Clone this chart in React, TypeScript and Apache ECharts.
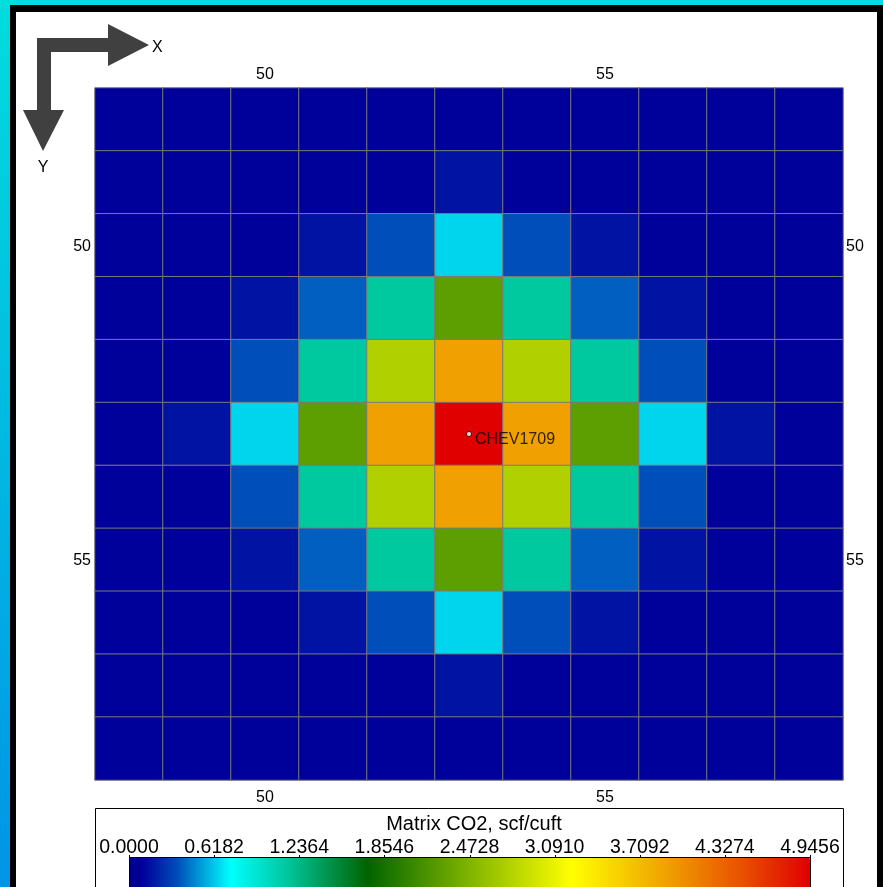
import React, { useEffect, useRef } from 'react';
import * as echarts from 'echarts';

const xCategories = ['48', '49', '50', '51', '52', '53', '54', '55', '56', '57', '58'];
const yCategories = ['48', '49', '50', '51', '52', '53', '54', '55', '56', '57', '58'];
const xLabeled = ['50', '55'];
const yLabeled = ['50', '55'];

const row48 = [0.09, 0.09, 0.09, 0.09, 0.09, 0.09, 0.09, 0.09, 0.09, 0.09, 0.09];
const row49 = [0.09, 0.09, 0.09, 0.09, 0.09, 0.16, 0.09, 0.09, 0.09, 0.09, 0.09];
const row50 = [0.09, 0.09, 0.09, 0.16, 0.35, 0.65, 0.35, 0.16, 0.09, 0.09, 0.09];
const row51 = [0.09, 0.09, 0.16, 0.39, 1.14, 2.27, 1.14, 0.39, 0.16, 0.09, 0.09];
const row52 = [0.09, 0.09, 0.35, 1.14, 2.75, 3.91, 2.75, 1.14, 0.35, 0.09, 0.09];
const row53 = [0.09, 0.16, 0.65, 2.27, 3.91, 4.9456, 3.91, 2.27, 0.65, 0.16, 0.09];
const row54 = [0.09, 0.09, 0.35, 1.14, 2.75, 3.91, 2.75, 1.14, 0.35, 0.09, 0.09];
const row55 = [0.09, 0.09, 0.16, 0.39, 1.14, 2.27, 1.14, 0.39, 0.16, 0.09, 0.09];
const row56 = [0.09, 0.09, 0.09, 0.16, 0.35, 0.65, 0.35, 0.16, 0.09, 0.09, 0.09];
const row57 = [0.09, 0.09, 0.09, 0.09, 0.09, 0.16, 0.09, 0.09, 0.09, 0.09, 0.09];
const row58 = [0.09, 0.09, 0.09, 0.09, 0.09, 0.09, 0.09, 0.09, 0.09, 0.09, 0.09];
const rows = [row48, row49, row50, row51, row52, row53, row54, row55, row56, row57, row58];

const valueMin = 0;
const valueMax = 4.9456;
const legendTicks = [0.0, 0.6182, 1.2364, 1.8546, 2.4728, 3.091, 3.7092, 4.3274, 4.9456];
const legendTitle = 'Matrix CO2, scf/cuft';

const wellName = 'CHEV1709';
const wellX = '53';
const wellY = '53';

// colour map (style)
const colorStops: [number, string][] = [
  [0, '#000088'],
  [0.02, '#00009C'],
  [0.07, '#004CB8'],
  [0.15, '#00FFFF'],
  [0.23, '#00C8A0'],
  [0.35, '#006400'],
  [0.5, '#80B400'],
  [0.65, '#FFFF00'],
  [0.79, '#F0A000'],
  [0.9, '#E85000'],
  [1, '#E00000'],
];

function hexToRgb(h: string) {
  return [parseInt(h.slice(1, 3), 16), parseInt(h.slice(3, 5), 16), parseInt(h.slice(5, 7), 16)];
}
function sampleColor(t: number) {
  for (let i = 0; i < colorStops.length - 1; i++) {
    const [a, ca] = colorStops[i];
    const [b, cb] = colorStops[i + 1];
    if (t >= a && t <= b) {
      const f = (t - a) / (b - a);
      const A = hexToRgb(ca);
      const B = hexToRgb(cb);
      const c = A.map((v, k) => Math.round(v + (B[k] - v) * f));
      return `rgb(${c[0]},${c[1]},${c[2]})`;
    }
  }
  return colorStops[colorStops.length - 1][1];
}
const rampColors: string[] = [];
for (let i = 0; i <= 200; i++) rampColors.push(sampleColor(i / 200));

export default function App() {
  const ref = useRef<HTMLDivElement>(null);
  useEffect(() => {
    if (!ref.current) return;
    const chart = echarts.init(ref.current, undefined, { renderer: 'svg' });

    const heatData: number[][] = [];
    rows.forEach((r, yi) => r.forEach((v, xi) => heatData.push([xi, yi, v])));

    const gridLeft = 95, gridTop = 88, gridW = 748, gridH = 692;
    const barLeft = 129, barTop = 857, barLen = 681, barThick = 40;

    const font = 'Arial, "Liberation Sans", sans-serif';

    const axisCommon = {
      type: 'category',
      axisLine: { show: false },
      axisTick: { show: false },
      splitLine: { show: false },
    };

    const graphics: any[] = [
      {
        type: 'rect', z: -10, silent: true,
        shape: { x: 0, y: 0, width: 883, height: 887 },
        style: {
          fill: new echarts.graphic.LinearGradient(0, 0, 0, 1, [
            { offset: 0, color: '#00DDDD' },
            { offset: 1, color: '#0094E6' },
          ]),
        },
      },
      {
        type: 'rect', z: -9, silent: true,
        shape: { x: 10, y: 5, width: 873, height: 882 },
        style: { fill: '#000000' },
      },
      {
        type: 'rect', z: -8, silent: true,
        shape: { x: 16, y: 12, width: 861, height: 875 },
        style: { fill: '#FFFFFF' },
      },
      {
        type: 'polygon', z: 10, silent: true,
        shape: {
          points: [
            [37, 38], [108, 38], [108, 24], [149, 45], [108, 66], [108, 52],
            [51, 52], [51, 110], [64, 110], [43, 151], [23, 110], [37, 110],
          ],
        },
        style: { fill: '#404040' },
      },
      {
        type: 'text', z: 10, x: 152, y: 46,
        style: { text: 'X', font: `16px ${font}`, fill: '#000', align: 'left', verticalAlign: 'middle' },
      },
      {
        type: 'text', z: 10, x: 43, y: 166,
        style: { text: 'Y', font: `16px ${font}`, fill: '#000', align: 'center', verticalAlign: 'middle' },
      },
      {
        type: 'rect', z: 1, silent: true,
        shape: { x: 95.5, y: 808.5, width: 748, height: 120 },
        style: { fill: '#FFFFFF', stroke: '#000000', lineWidth: 1 },
      },
      {
        type: 'text', z: 10, x: 474, y: 823,
        style: { text: legendTitle, font: `20px ${font}`, fill: '#000', align: 'center', verticalAlign: 'middle' },
      },
      {
        type: 'rect', z: 10, silent: true,
        shape: { x: barLeft + 0.5, y: barTop + 0.5, width: barLen, height: 60 },
        style: { fill: 'none', stroke: '#000000', lineWidth: 1 },
      },
    ];
    legendTicks.forEach((t) => {
      const x = barLeft + ((t - valueMin) / (valueMax - valueMin)) * barLen;
      graphics.push({
        type: 'text', z: 10, x: x, y: 846,
        style: { text: t.toFixed(4), font: `19.5px ${font}`, fill: '#000', align: 'center', verticalAlign: 'middle' },
      });
      graphics.push({
        type: 'line', z: 10, silent: true,
        shape: { x1: Math.round(x) + 0.5, y1: barTop - 2, x2: Math.round(x) + 0.5, y2: barTop + 1 },
        style: { stroke: '#000000', lineWidth: 1 },
      });
    });

    const labelStyle = { color: '#000', fontSize: 16, fontFamily: font };

    chart.setOption({
      animation: false,
      grid: { left: gridLeft, top: gridTop, width: gridW, height: gridH, containLabel: false },
      xAxis: [
        {
          ...axisCommon, data: xCategories, position: 'top',
          axisLabel: { ...labelStyle, margin: 7, interval: (i: number, v: string) => xLabeled.includes(v) },
        },
        {
          ...axisCommon, data: xCategories, position: 'bottom',
          axisLabel: { ...labelStyle, margin: 8, interval: (i: number, v: string) => xLabeled.includes(v) },
        },
      ],
      yAxis: [
        {
          ...axisCommon, data: yCategories, position: 'left', inverse: true,
          axisLabel: { ...labelStyle, margin: 4, interval: (i: number, v: string) => yLabeled.includes(v) },
        },
        {
          ...axisCommon, data: yCategories, position: 'right', inverse: true,
          axisLabel: { ...labelStyle, margin: 3, interval: (i: number, v: string) => yLabeled.includes(v) },
        },
      ],
      visualMap: {
        type: 'continuous',
        min: valueMin,
        max: valueMax,
        orient: 'horizontal',
        left: barLeft,
        top: barTop,
        itemHeight: barLen,
        itemWidth: barThick,
        padding: 0,
        calculable: false,
        hoverLink: false,
        text: null,
        showLabel: false,
        seriesIndex: 0,
        inRange: { color: rampColors },
        z: 5,
      },
      graphic: { elements: graphics },
      series: [
        {
          type: 'heatmap',
          xAxisIndex: 0,
          yAxisIndex: 0,
          data: heatData,
          itemStyle: { borderColor: '#7A7A7A', borderWidth: 1 },
          emphasis: { disabled: true },
          z: 2,
        },
        {
          type: 'scatter',
          xAxisIndex: 0,
          yAxisIndex: 0,
          data: [[xCategories.indexOf(wellX), yCategories.indexOf(wellY)]],
          symbol: 'circle',
          symbolSize: 5,
          itemStyle: { color: '#FFFFFF', borderColor: '#000000', borderWidth: 1 },
          label: {
            show: true,
            position: 'right',
            distance: 3,
            offset: [0, 4],
            formatter: wellName,
            color: '#000',
            fontSize: 16,
            fontFamily: font,
          },
          z: 6,
        },
      ],
    });
    return () => chart.dispose();
  }, []);
  return <div ref={ref} style={{ position: 'fixed', left: 0, top: 0, width: 883, height: 887 }} />;
}
